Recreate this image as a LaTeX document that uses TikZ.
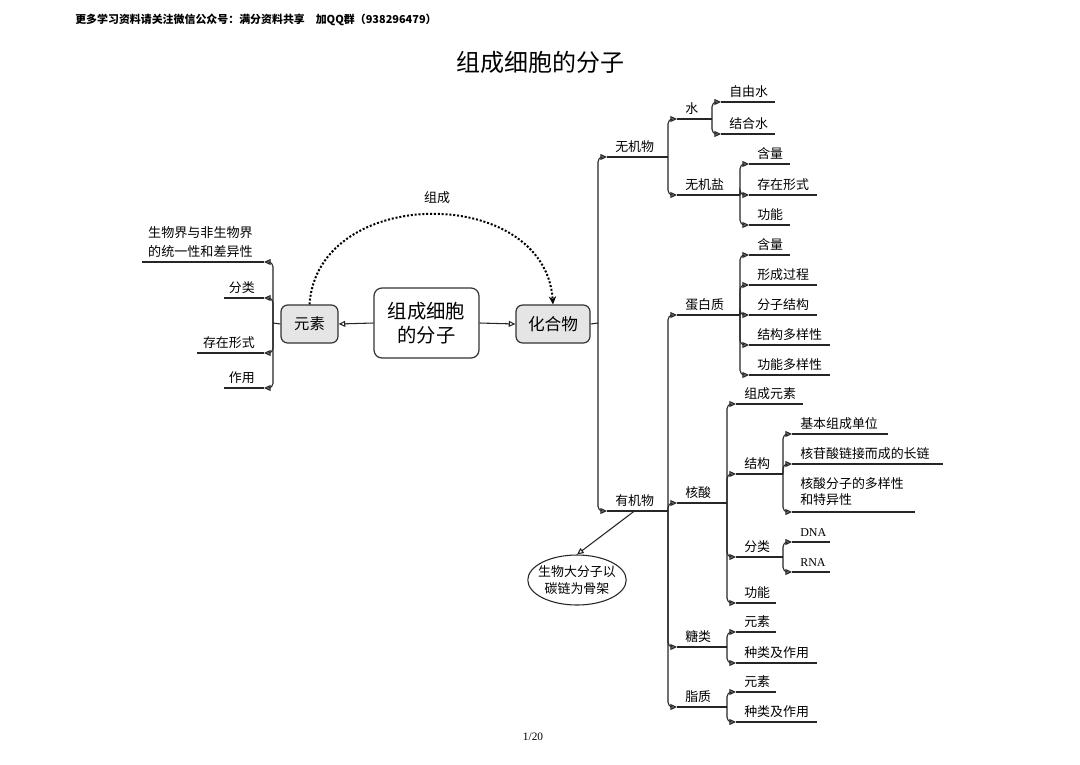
\documentclass[tikz,border=0pt]{standalone}
\usepackage{fontspec}
\setmainfont{Noto Sans CJK SC}
\newfontfamily\latinserif{Liberation Serif}
\usetikzlibrary{arrows.meta,shapes.geometric,calc}

\tikzset{
  lineline/.style={draw=black!85, line width=0.8pt},
  conn/.style={lineline, rounded corners=3.5pt, -{Triangle[open,length=5pt,width=4.5pt]}},
  lbl/.style={inner sep=0pt, font=\fontsize{9.7}{12}\selectfont},
  graybox/.style={draw=black!80, line width=0.9pt, rounded corners=5pt, fill=black!10,
                  inner sep=0pt, font=\fontsize{12}{14}\selectfont},
}

% right-side topic: name, x start, x end, y, text
\newcommand\rtopic[5]{%
  \coordinate (#1-s) at (#2,#4);
  \coordinate (#1-e) at (#3,#4);
  \draw[lineline] (#1-s) -- (#1-e);
  \node[lbl, anchor=base west] (#1) at (#2+8,#4-6) {#5};
}
% left-side topic: name, x start, x end, y, text
\newcommand\ltopic[5]{%
  \coordinate (#1-s) at (#3,#4);
  \coordinate (#1-e) at (#2,#4);
  \draw[lineline] (#1-s) -- (#1-e);
  \node[lbl, anchor=base east] (#1) at (255,#4-6) {#5};
}

\begin{document}
\begin{tikzpicture}[x=0.75pt, y=-0.75pt]
\useasboundingbox[fill=white] (0,0) rectangle (1080,764);

% header, title, page number
\node[inner sep=0pt, anchor=west, font=\fontsize{8.2}{10}\selectfont\bfseries] (header) at (75,20)
  {更多学习资料请关注微信公众号：满分资料共享\quad 加QQ群（938296479）};
\node[inner sep=0pt, font=\fontsize{18}{20}\selectfont] (title) at (540,62) {组成细胞的分子};
\node[inner sep=0pt, font=\fontsize{8.5}{10}\latinserif] (page) at (533,737) {1/20};

% central nodes
\node[draw=black!80, line width=0.9pt, rounded corners=6pt, fill=white, align=center,
      minimum width=78.75pt, minimum height=52.5pt, inner sep=0pt,
      font=\fontsize{14.5}{18}\selectfont] (center) at (426.5,323) {组成细胞\\的分子};
\node[graybox, minimum width=42.75pt, minimum height=28.5pt, font=\fontsize{11.5}{14}\selectfont] (ys) at (309.5,324) {元素};
\node[graybox, minimum width=55.5pt, minimum height=28.5pt, font=\fontsize{12.5}{14}\selectfont] (hhw) at (553,324) {化合物};

\draw[lineline, -{Triangle[open,length=5pt,width=4.5pt]}] (center.west) -- (ys.east);
\draw[lineline, -{Triangle[open,length=5pt,width=4.5pt]}] (center.east) -- (hhw.east -| hhw.west);

% dotted arc
\draw[line width=1.5pt, dash pattern=on 1.5pt off 1.4pt, -{Stealth[length=6pt,width=5.5pt]}]
  (ys.north) .. controls +(8,-120) and +(-8,-120) .. (hhw.north);
\node[inner sep=0pt, font=\fontsize{9.75}{12}\selectfont] (zc) at (437,198) {组成};

% ---------- left branch ----------
\coordinate (ys-e) at (273,323);
\draw[lineline] (ys.west) -- (ys-e);
\coordinate (swj-s) at (264,262); \coordinate (swj-e) at (142,262);
\draw[lineline] (swj-s) -- (swj-e);
\node[lbl, anchor=east, align=left, font=\fontsize{9.8}{14}\selectfont] (swj) at (253,242)
  {生物界与非生物界\\的统一性和差异性};
\ltopic{fl1}{224}{264}{298}{分类}
\ltopic{cz1}{197}{264}{353}{存在形式}
\ltopic{zy}{224}{264}{388}{作用}
\foreach \c in {swj,fl1,cz1,zy} \draw[conn] (ys-e) |- (\c-s);

% ---------- right branch ----------
\coordinate (hhw-e) at (598,323);
\draw[lineline] (hhw.east) -- (hhw-e);

\rtopic{wjw}{607}{668}{157}{无机物}
\rtopic{yjw}{607}{668}{511}{有机物}
\foreach \c in {wjw,yjw} \draw[conn] (hhw-e) |- (\c-s);

% 无机物
\rtopic{shui}{677}{712}{119}{水}
\rtopic{wjy}{677}{740}{195}{无机盐}
\foreach \c in {shui,wjy} \draw[conn] (wjw-e) |- (\c-s);
\rtopic{zys}{721}{775}{102}{自由水}
\rtopic{jhs}{721}{775}{134}{结合水}
\foreach \c in {zys,jhs} \draw[conn] (shui-e) |- (\c-s);
\rtopic{hla}{749}{790}{164}{含量}
\rtopic{czb}{749}{817}{195}{存在形式}
\rtopic{gna}{749}{790}{225}{功能}
\foreach \c in {hla,czb,gna} \draw[conn] (wjy-e) |- (\c-s);

% 有机物
\rtopic{dbz}{677}{740}{315}{蛋白质}
\rtopic{hs}{677}{727}{503}{核酸}
\rtopic{tl}{677}{727}{647}{糖类}
\rtopic{zz}{677}{727}{707}{脂质}
\foreach \c in {dbz,hs,tl,zz} \draw[conn] (yjw-e) |- (\c-s);

% 蛋白质
\rtopic{hlb}{749}{790}{255}{含量}
\rtopic{xcgc}{749}{817}{285}{形成过程}
\rtopic{fzjg}{749}{817}{315}{分子结构}
\rtopic{jgdy}{749}{830}{345}{结构多样性}
\rtopic{gndy}{749}{830}{375}{功能多样性}
\foreach \c in {hlb,xcgc,fzjg,jgdy,gndy} \draw[conn] (dbz-e) |- (\c-s);

% 核酸
\rtopic{zcys}{736}{803}{404}{组成元素}
\rtopic{jg}{736}{783}{474}{结构}
\rtopic{flb}{736}{783}{557}{分类}
\rtopic{gnb}{736}{776}{603}{功能}
\foreach \c in {zcys,jg,flb,gnb} \draw[conn] (hs-e) |- (\c-s);
\rtopic{jbdw}{792}{888}{434}{基本组成单位}
\rtopic{cl}{792}{943}{464}{核苷酸链接而成的长链}
\coordinate (dyx-s) at (792,512); \coordinate (dyx-e) at (915,512);
\draw[lineline] (dyx-s) -- (dyx-e);
\node[lbl, anchor=west, align=left, font=\fontsize{9.7}{12}\selectfont] (dyx) at (800,492)
  {核酸分子的多样性\\和特异性};
\foreach \c in {jbdw,cl,dyx} \draw[conn] (jg-e) |- (\c-s);
\rtopic{dna}{792}{830}{542}{{\latinserif\fontsize{9}{10}\selectfont DNA}}
\rtopic{rna}{792}{830}{572}{{\latinserif\fontsize{9}{10}\selectfont RNA}}
\foreach \c in {dna,rna} \draw[conn] (flb-e) |- (\c-s);

% 糖类 / 脂质
\rtopic{ysa}{736}{776}{632}{元素}
\rtopic{zla}{736}{817}{663}{种类及作用}
\foreach \c in {ysa,zla} \draw[conn] (tl-e) |- (\c-s);
\rtopic{ysb}{736}{776}{692}{元素}
\rtopic{zlb}{736}{817}{722}{种类及作用}
\foreach \c in {ysb,zlb} \draw[conn] (zz-e) |- (\c-s);

% ellipse
\node[ellipse, draw=black!85, line width=0.8pt, minimum width=73.5pt, minimum height=37.5pt,
      inner xsep=-3pt, inner ysep=0pt, align=center, font=\fontsize{9.7}{13}\selectfont] (tlgj) at (577,580)
  {生物大分子以\\碳链为骨架};
\coordinate (yjw-m) at ($(yjw-s)!0.45!(yjw-e)$);
\draw[lineline, -{Triangle[open,length=5pt,width=4.5pt]}] (yjw-m) -- (tlgj.north);
\end{tikzpicture}
\end{document}
